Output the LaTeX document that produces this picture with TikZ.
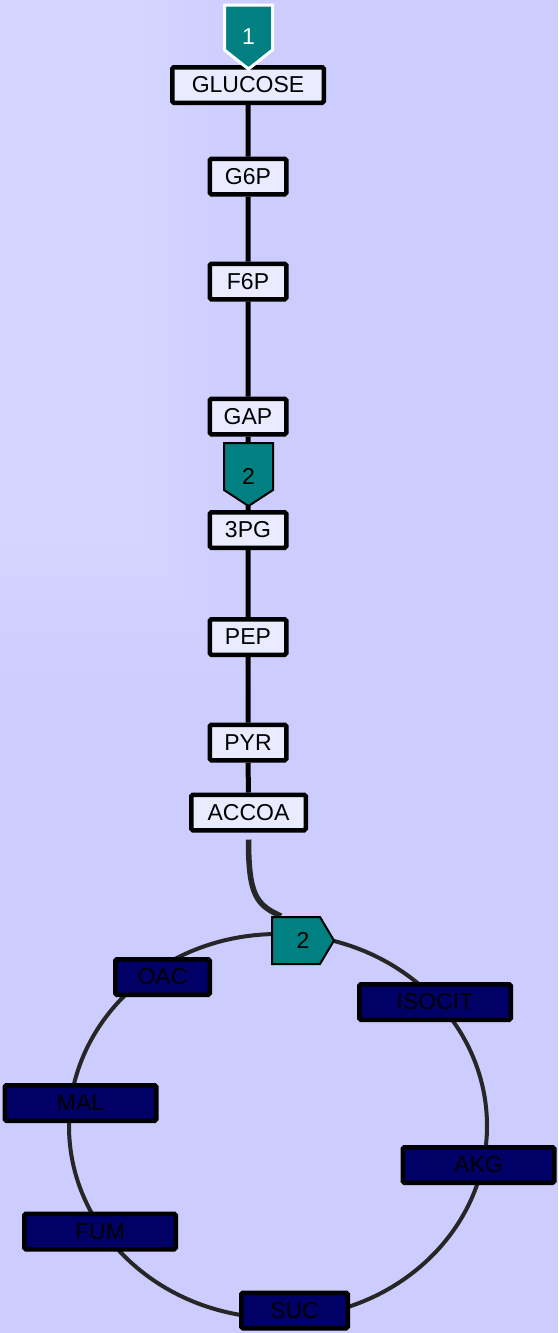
\documentclass[tikz,border=0pt]{standalone}
\usepackage{fontspec}
\setmainfont{Liberation Sans}
\definecolor{bgblue}{HTML}{CCCCFF}
\definecolor{boxfill}{HTML}{EBEBFF}
\definecolor{tcafill}{HTML}{000066}
\definecolor{tagteal}{HTML}{008080}
\tikzset{
  metab/.style={draw=black, line width=2.25pt, fill=boxfill, rounded corners=0.8pt,
    inner sep=0pt, minimum height=17.75pt, font=\fontsize{11.5}{13}\selectfont},
  tcametab/.style={metab, fill=tcafill},
  link/.style={line width=2.5pt},
  ring/.style={line width=2pt, draw=black!85},
  fluxtag/.style={fill=tagteal, draw=black, line width=1pt},
  taglabel/.style={font=\fontsize{11.5}{13}\selectfont, inner sep=0pt}
}

\begin{document}
\begin{tikzpicture}[x=0.5pt,y=-0.5pt]
% background with the lighter corner
\fill[bgblue] (0,0) rectangle (558,1333);
\foreach \i in {0,...,17}
  \fill[white, fill opacity=0.025] (0,0) rectangle ({256-14.2*\i},{691-18.3*\i});
\useasboundingbox (0,0) rectangle (558,1333);

% TCA ring
\coordinate (tca) at (278,1126);
\draw[ring] (tca) ellipse [x radius=104.5pt, y radius=96pt];

% glycolysis
\node[metab, minimum width=75.75pt] (glucose) at (248,85) {GLUCOSE};
\node[metab, minimum width=38.25pt] (g6p) at (248,176.5) {G6P};
\node[metab, minimum width=38.25pt] (f6p) at (248,281.5) {F6P};
\node[metab, minimum width=38.25pt] (gap) at (248,416.5) {GAP};
\node[metab, minimum width=38.25pt] (pga) at (248,530) {3PG};
\node[metab, minimum width=38.25pt] (pep) at (248,637) {PEP};
\node[metab, minimum width=38.25pt] (pyr) at (248,742.5) {PYR};
\node[metab, minimum width=57.25pt] (accoa) at (248.5,812.5) {ACCOA};

\draw[link] (glucose) -- (g6p) -- (f6p) -- (gap) -- (pga) -- (pep) -- (pyr) -- (accoa);

% TCA cycle
\node[tcametab, minimum width=47.25pt] (oac) at (162.5,977) {OAC};
\node[tcametab, minimum width=75.75pt] (isocit) at (435,1002) {ISOCIT};
\node[tcametab, minimum width=75.75pt] (mal) at (80.5,1103) {MAL};
\node[tcametab, minimum width=75.75pt] (akg) at (478.5,1165) {AKG};
\node[tcametab, minimum width=75.75pt] (fum) at (100,1231.5) {FUM};
\node[tcametab, minimum width=53.25pt] (suc) at (294.5,1310.5) {SUC};

% flux tags
\filldraw[fluxtag, draw=white, line width=1.5pt] (224.5,5) -- (272.5,5) -- (272.5,50) -- (248.5,69) -- (224.5,50) -- cycle;
\node[taglabel, text=white] (flux1) at (248.5,37) {1};

\filldraw[fluxtag] (224,443) -- (273,443) -- (273,490) -- (248.5,506) -- (224,490) -- cycle;
\node[taglabel] (flux2) at (248.5,476) {2};

\coordinate (flux3pos) at (303,940);
\draw[ring, line width=2.75pt] ([yshift=-3.5pt]accoa.south) .. controls +(0,55) and (256,905) .. ([xshift=-11pt,yshift=12pt]flux3pos);
\filldraw[fluxtag] (272,917) -- (320,917) -- (334,940.5) -- (320,964) -- (272,964) -- cycle;
\node[taglabel] (flux3) at (flux3pos) {2};
\end{tikzpicture}
\end{document}
